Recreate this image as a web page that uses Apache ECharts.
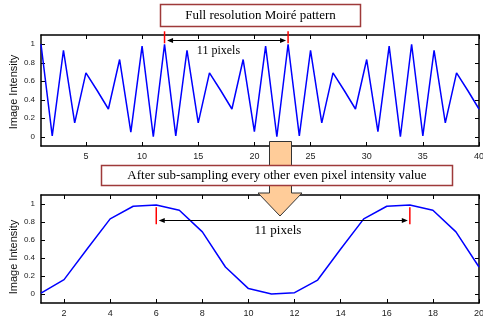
<!DOCTYPE html>
<html>
<head>
<meta charset="utf-8">
<script src="https://cdn.jsdelivr.net/npm/echarts@6/dist/echarts.min.js"></script>
<style>
  html, body { margin: 0; padding: 0; background: #fff; }
  #c { width: 483px; height: 320px; }
</style>
</head>
<body>
<div id="c"></div>
<script>
// Full-resolution signal: pixel index and intensity
const topPixels = [1, 2, 3, 4, 5, 6, 7, 8, 9, 10, 11, 12, 13, 14, 15, 16, 17, 18, 19, 20,
                   21, 22, 23, 24, 25, 26, 27, 28, 29, 30, 31, 32, 33, 34, 35, 36, 37, 38, 39, 40];
const topIntensity = [1.0, 0.01, 0.935, 0.15, 0.69, 0.50, 0.30, 0.835, 0.05, 0.98,
                      0.0, 1.0, 0.01, 0.935, 0.15, 0.69, 0.50, 0.30, 0.835, 0.055,
                      0.98, 0.0, 1.0, 0.01, 0.935, 0.15, 0.69, 0.50, 0.30, 0.835,
                      0.055, 0.98, 0.0, 1.0, 0.01, 0.935, 0.15, 0.69, 0.50, 0.30];

// Sub-sampled signal (every even pixel)
const bottomPixels = [1, 2, 3, 4, 5, 6, 7, 8, 9, 10, 11, 12, 13, 14, 15, 16, 17, 18, 19, 20];
const bottomIntensity = [0.01, 0.16, 0.50, 0.835, 0.975, 0.99, 0.93, 0.69, 0.30, 0.06,
                         0.0, 0.015, 0.155, 0.50, 0.835, 0.975, 0.99, 0.93, 0.69, 0.30];

// Tick positions
const topXTicks = [5, 10, 15, 20, 25, 30, 35, 40];
const bottomXTicks = [2, 4, 6, 8, 10, 12, 14, 16, 18, 20];
const yTicks = [0, 0.2, 0.4, 0.6, 0.8, 1];

// Period markers (pixel positions 11 apart)
const topMarkers = [12, 23];
const bottomMarkers = [6, 17];

// Text
const topTitle = 'Full resolution Moiré pattern';
const bottomTitle = 'After sub-sampling every other even pixel intensity value';
const periodLabel = '11 pixels';
const yName = 'Image Intensity';

const chart = echarts.init(document.getElementById('c'), null, { renderer: 'canvas' });

const sans = 'Liberation Sans, Arial, sans-serif';
const serif = 'Liberation Serif, Times New Roman, serif';

function axisLine() {
  return { show: true, onZero: false, lineStyle: { color: '#000', width: 1.5 } };
}

function xAxisPair(grid, min, max, ticks) {
  return [
    {
      type: 'value', gridIndex: grid, min: min, max: max, position: 'bottom',
      axisLine: axisLine(),
      axisTick: { show: true, inside: true, length: 4, customValues: ticks, lineStyle: { color: '#000', width: 1 } },
      axisLabel: { show: true, customValues: ticks, fontSize: 9, color: '#222', margin: 6, fontFamily: sans },
      splitLine: { show: false }
    },
    {
      type: 'value', gridIndex: grid, min: min, max: max, position: 'top',
      axisLine: axisLine(),
      axisTick: { show: true, inside: true, length: 4, customValues: ticks, lineStyle: { color: '#000', width: 1 } },
      axisLabel: { show: false },
      splitLine: { show: false }
    }
  ];
}

function yAxisPair(grid) {
  return [
    {
      type: 'value', gridIndex: grid, min: -0.1, max: 1.1, position: 'left',
      axisLine: axisLine(),
      axisTick: { show: true, inside: true, length: 4, customValues: yTicks, lineStyle: { color: '#000', width: 1 } },
      axisLabel: { show: true, customValues: yTicks, fontSize: 8, color: '#222', margin: 6, fontFamily: sans },
      splitLine: { show: false }
    },
    {
      type: 'value', gridIndex: grid, min: -0.1, max: 1.1, position: 'right',
      axisLine: axisLine(),
      axisTick: { show: true, inside: true, length: 4, customValues: yTicks, lineStyle: { color: '#000', width: 1 } },
      axisLabel: { show: false },
      splitLine: { show: false }
    }
  ];
}

chart.setOption({
  animation: false,
  backgroundColor: '#fff',
  grid: [
    { left: 41, top: 35, width: 438, height: 111, outerBoundsMode: 'none', containLabel: false },
    { left: 41, top: 195, width: 438, height: 108, outerBoundsMode: 'none', containLabel: false }
  ],
  xAxis: [].concat(xAxisPair(0, 1, 40, topXTicks), xAxisPair(1, 1, 20, bottomXTicks)),
  yAxis: [].concat(yAxisPair(0), yAxisPair(1)),
  series: [
    {
      type: 'line', xAxisIndex: 0, yAxisIndex: 0, showSymbol: false,
      lineStyle: { color: '#0000ff', width: 1.5 },
      data: topPixels.map((x, i) => [x, topIntensity[i]])
    },
    {
      type: 'line', xAxisIndex: 2, yAxisIndex: 2, showSymbol: false,
      lineStyle: { color: '#0000ff', width: 1.5 },
      data: bottomPixels.map((x, i) => [x, bottomIntensity[i]])
    }
  ]
});

// Annotation helpers
function px(grid, x, y) {
  return chart.convertToPixel({ xAxisIndex: grid * 2, yAxisIndex: grid * 2 }, [x, y]);
}

function redTick(grid, x, y0, y1) {
  const a = px(grid, x, y0), b = px(grid, x, y1);
  return { type: 'line', z: 100, shape: { x1: a[0], y1: a[1], x2: b[0], y2: b[1] },
           style: { stroke: '#ff0000', lineWidth: 1.5 } };
}

function doubleArrow(grid, xa, xb, y) {
  const a = px(grid, xa, y), b = px(grid, xb, y);
  const l = a[0] + 2.5, r = b[0] - 2, yy = Math.round(a[1]) + 0.5;
  const head = 6, hw = 2.5;
  return [
    { type: 'line', z: 100, shape: { x1: l + 2, y1: yy, x2: r - 2, y2: yy }, style: { stroke: '#000', lineWidth: 1 } },
    { type: 'polygon', z: 100, shape: { points: [[l, yy], [l + head, yy - hw], [l + head, yy + hw]] }, style: { fill: '#000' } },
    { type: 'polygon', z: 100, shape: { points: [[r, yy], [r - head, yy - hw], [r - head, yy + hw]] }, style: { fill: '#000' } }
  ];
}

function label(grid, x, y, text, size) {
  const p = px(grid, x, y);
  return { type: 'text', z: 100, x: p[0], y: p[1],
           style: { text: text, font: size + 'px ' + serif, fill: '#000', textAlign: 'center', textVerticalAlign: 'middle' } };
}

function titleBox(x, y, w, h, text) {
  return [
    { type: 'rect', z: 110, shape: { x: x, y: y, width: w, height: h },
      style: { fill: '#fff', stroke: '#9e3a3a', lineWidth: 1.5 } },
    { type: 'text', z: 111, x: x + w / 2, y: y + h / 2 + 0.5,
      style: { text: text, font: '13px ' + serif, fill: '#000', textAlign: 'center', textVerticalAlign: 'middle' } }
  ];
}

function axisName(x, y) {
  return { type: 'text', z: 100, x: x, y: y, rotation: Math.PI / 2,
           style: { text: yName, font: '11px ' + sans, fill: '#111', textAlign: 'center', textVerticalAlign: 'middle' } };
}

const graphics = [].concat(
  [axisName(14, 92), axisName(14, 257)],
  topMarkers.map(m => redTick(0, m, 1.14, 1.01)),
  doubleArrow(0, topMarkers[0], topMarkers[1], 1.043),
  [label(0, 16.8, 0.925, periodLabel, 12)],
  bottomMarkers.map(m => redTick(1, m, 0.965, 0.775)),
  doubleArrow(1, bottomMarkers[0], bottomMarkers[1], 0.82),
  [label(1, 11.28, 0.71, periodLabel, 13)],
  [{
    type: 'polygon', z: 105,
    shape: { points: [[269.5, 141.5], [291.5, 141.5], [291.5, 193], [302, 193], [280, 216], [258, 193], [269.5, 193]] },
    style: { fill: '#ffcc99', stroke: '#333', lineWidth: 1 }
  }],
  titleBox(160.5, 4.5, 200, 22, topTitle),
  titleBox(101.5, 165.5, 351, 20, bottomTitle)
);

chart.setOption({ graphic: graphics });
</script>
</body>
</html>
